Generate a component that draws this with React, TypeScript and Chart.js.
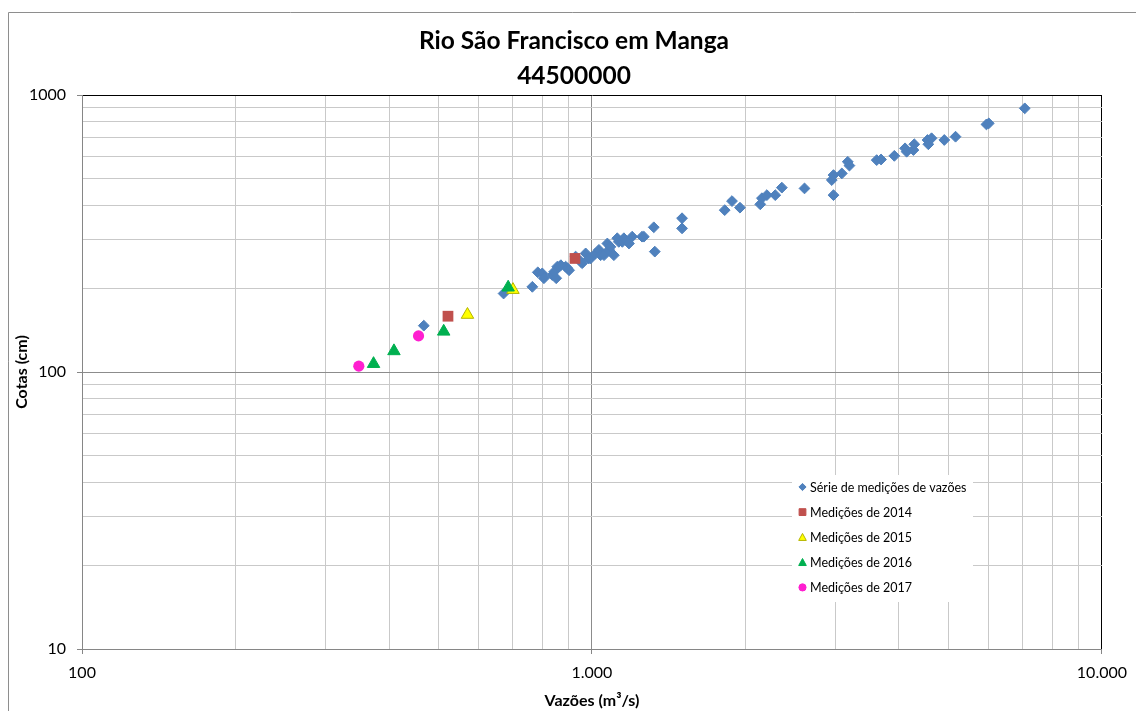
import React, { useEffect, useRef } from 'react';
import { Chart, registerables } from 'chart.js';

Chart.register(...registerables);

const FONT = 'Lato, "Open Sans", "DejaVu Sans", sans-serif';

const chartTitle = ['Rio São Francisco em Manga', '44500000'];
const xAxisTitle = 'Vazões (m³/s)';
const yAxisTitle = 'Cotas (cm)';

const xGridValues = [100, 200, 300, 400, 500, 600, 700, 800, 900, 1000, 2000, 3000, 4000, 5000, 6000, 7000, 8000, 9000, 10000];
const yGridValues = [10, 20, 30, 40, 50, 60, 70, 80, 90, 100, 200, 300, 400, 500, 600, 700, 800, 900, 1000];
const xTickValues = [100, 1000, 10000];
const xTickLabels = ['100', '1.000', '10.000'];
const yTickValues = [10, 100, 1000];
const yTickLabels = ['10', '100', '1000'];

const seriesNames = [
  'Série de medições de vazões',
  'Medições de 2014',
  'Medições de 2015',
  'Medições de 2016',
  'Medições de 2017',
];

// Série de medições de vazões
const serieQ = [468, 671, 764, 783, 799, 805, 836, 843, 851, 855, 863, 869, 888, 895, 902, 929, 951, 957, 972, 986, 994, 1017, 1032, 1040, 1056, 1072, 1080, 1087, 1104, 1121, 1129, 1147, 1155, 1182, 1199, 1254, 1264, 1322, 1328, 1502, 1502, 1821, 1882, 1951, 2138, 2154, 2203, 2288, 2357, 2611, 2953, 2976, 2976, 3090, 3174, 3198, 3617, 3689, 3917, 4111, 4141, 4270, 4286, 4550, 4567, 4634, 4908, 5164, 5937, 6000, 7058];
const serieH = [147, 192, 203, 229, 227, 218, 224, 230, 218, 240, 240, 243, 240, 237, 233, 261, 250, 247, 268, 257, 257, 268, 276, 264, 264, 291, 276, 283, 264, 304, 295, 295, 304, 291, 308, 308, 308, 333, 272, 359, 330, 384, 414, 392, 403, 424, 435, 435, 463, 460, 493, 514, 435, 521, 574, 556, 582, 585, 603, 642, 624, 633, 664, 688, 664, 698, 688, 707, 783, 790, 895];

const q2014 = [522, 926];
const h2014 = [159, 257];
const q2015 = [570, 700];
const h2015 = [161, 198];
const q2016 = [373, 409, 512, 685];
const h2016 = [107, 119, 140, 202];
const q2017 = [349, 457];
const h2017 = [105, 135];

const toPoints = (xs: number[], ys: number[]) => xs.map((x, i) => ({ x, y: ys[i] }));

const BLUE = '#4f81bd';
const RED = '#c0504d';
const YELLOW = '#ffff00';
const YELLOW_EDGE = '#b5b500';
const GREEN = '#00b050';
const PINK = '#ff1fd0';

const MINOR = '#c9c9c9';
const MAJOR = '#8c8c8c';
const AXIS = '#868686';

function drawMarker(ctx: CanvasRenderingContext2D, style: string, x: number, y: number, r: number, fill: string, stroke: string) {
  ctx.save();
  ctx.fillStyle = fill;
  ctx.strokeStyle = stroke;
  ctx.lineWidth = 1;
  ctx.beginPath();
  if (style === 'rectRot') {
    ctx.moveTo(x - r, y);
    ctx.lineTo(x, y - r);
    ctx.lineTo(x + r, y);
    ctx.lineTo(x, y + r);
    ctx.closePath();
  } else if (style === 'rect') {
    ctx.rect(x - r, y - r, 2 * r, 2 * r);
  } else if (style === 'triangle') {
    ctx.moveTo(x, y - r);
    ctx.lineTo(x + r, y + r * 0.85);
    ctx.lineTo(x - r, y + r * 0.85);
    ctx.closePath();
  } else {
    ctx.arc(x, y, r, 0, Math.PI * 2);
  }
  ctx.fill();
  ctx.stroke();
  ctx.restore();
}

const framePlugin = {
  id: 'frame',
  beforeDraw(chart: any) {
    const ctx = chart.ctx as CanvasRenderingContext2D;
    ctx.save();
    ctx.fillStyle = '#ffffff';
    ctx.fillRect(0, 0, chart.width, chart.height);
    ctx.strokeStyle = '#8e8e8e';
    ctx.lineWidth = 1;
    ctx.beginPath();
    ctx.moveTo(8.5, chart.height);
    ctx.lineTo(8.5, 12.5);
    ctx.lineTo(chart.width, 12.5);
    ctx.stroke();
    ctx.restore();
  },
};

const titlePlugin = {
  id: 'customTitle',
  afterDraw(chart: any) {
    const ctx = chart.ctx as CanvasRenderingContext2D;
    ctx.save();
    ctx.fillStyle = '#000000';
    ctx.font = `bold 24.5px ${FONT}`;
    ctx.textAlign = 'center';
    ctx.textBaseline = 'alphabetic';
    ctx.fillText(chartTitle[0], 574, 49);
    ctx.fillText(chartTitle[1], 574, 84);
    ctx.restore();
  },
};

const legendPlugin = {
  id: 'customLegend',
  afterDraw(chart: any) {
    const ctx = chart.ctx as CanvasRenderingContext2D;
    ctx.save();
    ctx.fillStyle = '#ffffff';
    ctx.fillRect(792, 475, 181, 127);
    const markers = [
      { style: 'rectRot', r: 3.6, fill: BLUE, stroke: BLUE },
      { style: 'rect', r: 3.4, fill: RED, stroke: RED },
      { style: 'triangle', r: 3.8, fill: YELLOW, stroke: YELLOW_EDGE },
      { style: 'triangle', r: 3.8, fill: GREEN, stroke: GREEN },
      { style: 'circle', r: 3.6, fill: PINK, stroke: PINK },
    ];
    ctx.font = `12.5px ${FONT}`;
    ctx.textBaseline = 'middle';
    ctx.textAlign = 'left';
    seriesNames.forEach((name, i) => {
      const y = 487 + i * 25.1;
      const m = markers[i];
      drawMarker(ctx, m.style, 802.5, y, m.r, m.fill, m.stroke);
      ctx.fillStyle = '#000000';
      ctx.fillText(name, 810, y + 0.5);
    });
    ctx.restore();
  },
};

export default function App() {
  const canvasRef = useRef<HTMLCanvasElement | null>(null);

  useEffect(() => {
    const canvas = canvasRef.current;
    if (!canvas) return;
    const isMajor = (v: number) => v === 10 || v === 100 || v === 1000 || v === 10000;

    const chart = new Chart(canvas, {
      type: 'scatter',
      data: {
        datasets: [
          {
            label: seriesNames[0],
            data: toPoints(serieQ, serieH),
            pointStyle: 'rectRot',
            pointRadius: 5.4,
            backgroundColor: BLUE,
            borderColor: BLUE,
            borderWidth: 1,
            order: 5,
          },
          {
            label: seriesNames[1],
            data: toPoints(q2014, h2014),
            pointStyle: 'rect',
            pointRadius: 7.6,
            backgroundColor: RED,
            borderColor: RED,
            borderWidth: 0,
            order: 4,
          },
          {
            label: seriesNames[2],
            data: toPoints(q2015, h2015),
            pointStyle: 'triangle',
            pointRadius: 7.2,
            backgroundColor: YELLOW,
            borderColor: YELLOW_EDGE,
            borderWidth: 1,
            order: 3,
          },
          {
            label: seriesNames[3],
            data: toPoints(q2016, h2016),
            pointStyle: 'triangle',
            pointRadius: 7.2,
            backgroundColor: GREEN,
            borderColor: GREEN,
            borderWidth: 1,
            order: 2,
          },
          {
            label: seriesNames[4],
            data: toPoints(q2017, h2017),
            pointStyle: 'circle',
            pointRadius: 5.6,
            backgroundColor: PINK,
            borderColor: PINK,
            borderWidth: 0,
            order: 1,
          },
        ] as any,
      },
      options: {
        responsive: false,
        animation: false,
        devicePixelRatio: 1,
        events: [],
        layout: { padding: { top: 95, right: 32, left: 0, bottom: 0 } },
        plugins: {
          legend: { display: false },
          title: { display: false },
          tooltip: { enabled: false },
        },
        scales: {
          x: {
            type: 'logarithmic',
            position: 'bottom',
            min: 100,
            max: 10000,
            afterBuildTicks: (s: any) => {
              s.ticks = xGridValues.map((v) => ({ value: v }));
            },
            afterFit: (s: any) => {
              s.height = 62;
            },
            ticks: {
              autoSkip: false,
              maxRotation: 0,
              minRotation: 0,
              padding: 9,
              color: '#000000',
              font: { family: FONT, size: 16 },
              callback: (v: any) => {
                const i = xTickValues.indexOf(Number(v));
                return i >= 0 ? xTickLabels[i] : '';
              },
            },
            grid: {
              color: (c: any) => {
                const v = c.tick ? c.tick.value : 0;
                if (v === 10000) return '#000000';
                return isMajor(v) ? MAJOR : MINOR;
              },
              tickColor: (c: any) => (c.tick && isMajor(c.tick.value) ? AXIS : 'rgba(0,0,0,0)'),
              tickLength: 5,
              lineWidth: 1,
            },
            border: { color: AXIS, width: 1 },
            title: {
              display: true,
              text: xAxisTitle,
              color: '#000000',
              font: { family: FONT, size: 16, weight: 'bold' },
              padding: { top: 0, bottom: 1 },
            },
          },
          y: {
            type: 'logarithmic',
            position: 'left',
            min: 10,
            max: 1000,
            afterBuildTicks: (s: any) => {
              s.ticks = yGridValues.map((v) => ({ value: v }));
            },
            afterFit: (s: any) => {
              s.width = 82;
            },
            ticks: {
              autoSkip: false,
              padding: 11,
              color: '#000000',
              font: { family: FONT, size: 16 },
              callback: (v: any) => {
                const i = yTickValues.indexOf(Number(v));
                return i >= 0 ? yTickLabels[i] : '';
              },
            },
            grid: {
              color: (c: any) => {
                const v = c.tick ? c.tick.value : 0;
                if (v === 1000) return '#000000';
                return isMajor(v) ? MAJOR : MINOR;
              },
              tickColor: (c: any) => (c.tick && isMajor(c.tick.value) ? AXIS : 'rgba(0,0,0,0)'),
              tickLength: 5,
              lineWidth: 1,
            },
            border: { color: AXIS, width: 1 },
            title: {
              display: true,
              text: yAxisTitle,
              color: '#000000',
              font: { family: FONT, size: 16, weight: 'bold' },
              padding: { top: 12, bottom: 0 },
            },
          },
        },
      } as any,
      plugins: [framePlugin, titlePlugin, legendPlugin],
    });

    return () => {
      chart.destroy();
    };
  }, []);

  return (
    <canvas
      ref={canvasRef}
      width={1136}
      height={711}
      style={{ position: 'absolute', left: 0, top: 0, display: 'block', width: 1136, height: 711 }}
    />
  );
}
